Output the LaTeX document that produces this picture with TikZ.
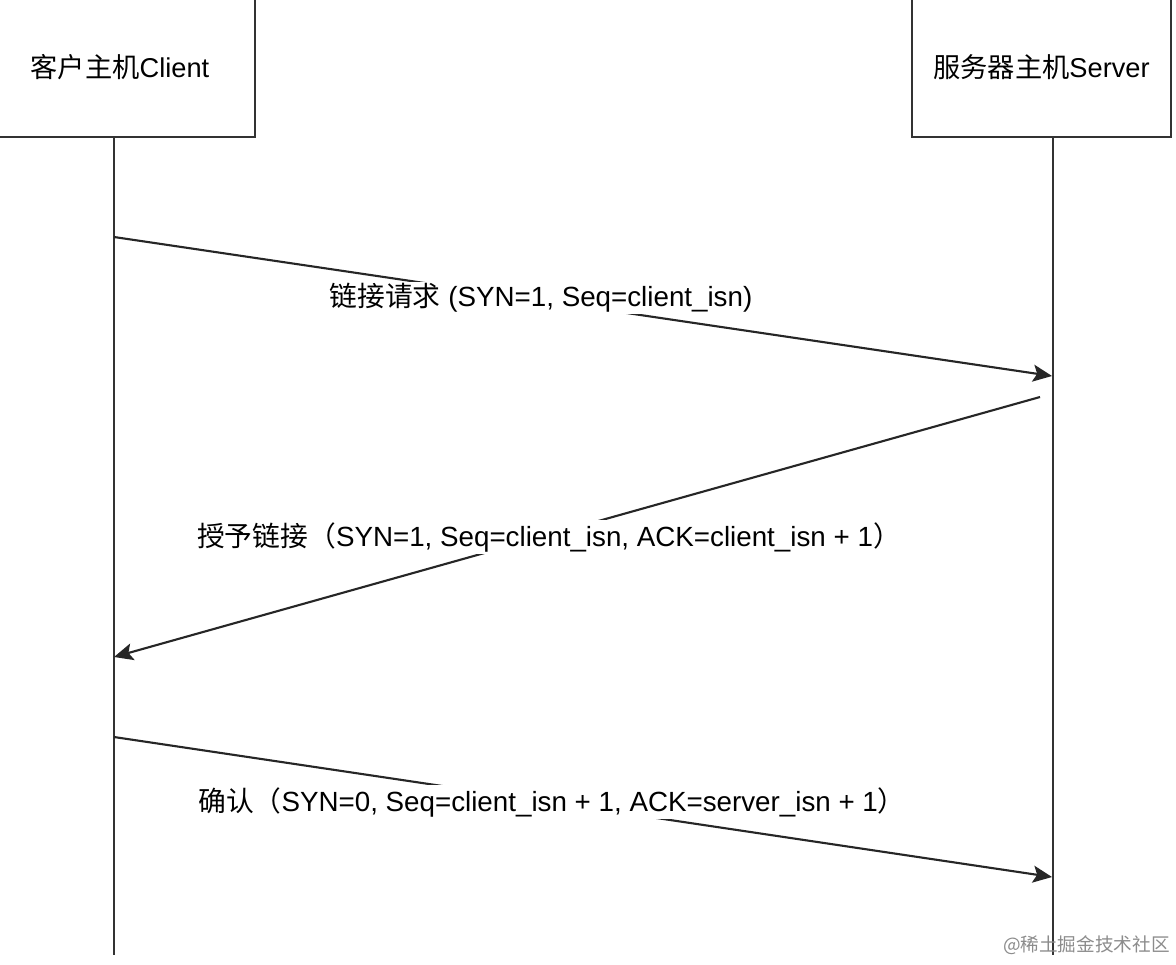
\documentclass[tikz,border=0pt]{standalone}
\usepackage{fontspec}
\setmainfont{Liberation Sans}
\newfontfamily\cjk{Noto Sans CJK SC}
\usetikzlibrary{arrows.meta, positioning}
\tikzset{%
  host/.style = {rectangle, draw=black!80, line width=1.2pt, fill=white,
                 inner sep=2pt, font=\fontsize{15.5}{18}\selectfont},
  life/.style = {draw=black!80, line width=1.2pt},
  msg/.style = {draw=black!85, line width=1.2pt, -{Stealth[length=0.38cm, width=0.34cm, inset=0.08cm]}},
  msgLabel/.style = {fill=white, inner sep=1pt, font=\fontsize{15.8}{18}\selectfont},
  wmark/.style = {text=black!45, inner sep=0pt, font=\fontsize{10.6}{12}\selectfont}
  }
\begin{document}
\begin{tikzpicture}[x=0.02cm, y=-0.02cm]
    \useasboundingbox (0,0) rectangle (1176,964);
    \fill[white] (0,0) rectangle (1176,964);

    \node (client) [host, minimum width=5.4cm, minimum height=2.8cm] at (120,67)
          {{\cjk 客户主机}Client};
    \node (server) [host, minimum width=5.18cm, minimum height=2.8cm] at (1041.5,67)
          {{\cjk 服务器主机}Server};

    \coordinate (cTop) at (114,137);
    \coordinate (cEnd) at (114,955);
    \coordinate (sTop) at (1053,137);
    \coordinate (sEnd) at (1053,955);

    \coordinate (synOut)  at (114,237);
    \coordinate (synIn)   at (1052,376);
    \coordinate (ackOut)  at (1040,397);
    \coordinate (ackIn)   at (114,657);
    \coordinate (finOut)  at (114,737);
    \coordinate (finIn)   at (1052,877);

    \path (cTop) edge [life] (cEnd)
          (sTop) edge [life] (sEnd);

    \path (synOut) edge [msg] (synIn)
          (ackOut) edge [msg] (ackIn)
          (finOut) edge [msg] (finIn);

    \node (synLabel) [msgLabel] at (541,298)
          {{\cjk 链接请求} (SYN=1, Seq=client\_isn)};
    \node (ackLabel) [msgLabel] at (549,537)
          {{\cjk 授予链接（}SYN=1, Seq=client\_isn, ACK=client\_isn + 1{\cjk ）}};
    \node (finLabel) [msgLabel] at (552,802)
          {{\cjk 确认（}SYN=0, Seq=client\_isn + 1, ACK=server\_isn + 1{\cjk ）}};

    \node (water) [wmark, anchor=east] at (1170,945) {{\cjk @稀土掘金技术社区}};
\end{tikzpicture}
\end{document}
